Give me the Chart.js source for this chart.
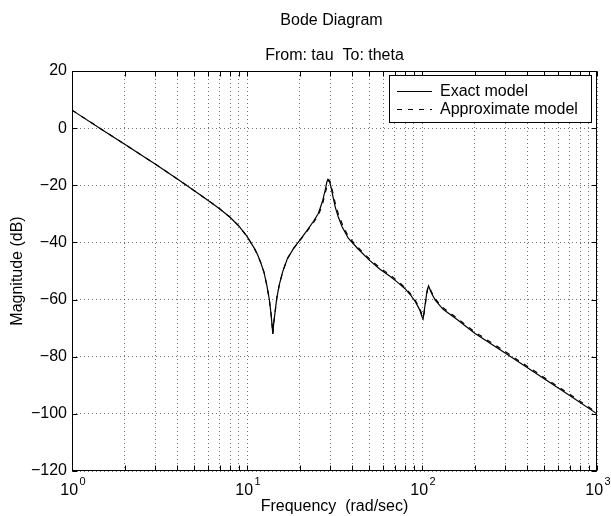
<!DOCTYPE html>
<html>
<head>
<meta charset="utf-8">
<script src="https://cdn.jsdelivr.net/npm/chart.js@4.4.1/dist/chart.umd.min.js"></script>
<style>
html,body{margin:0;padding:0;background:#fff;}
#wrap{width:611px;height:516px;}
</style>
</head>
<body>
<div id="wrap"><canvas id="c" width="611" height="516"></canvas></div>
<script>
// ---- texts ----
const titleText = 'Bode Diagram';
const subtitleText = 'From: tau  To: theta';
const xAxisTitle = 'Frequency  (rad/sec)';
const yAxisTitle = 'Magnitude (dB)';
const seriesNames = ['Exact model', 'Approximate model'];

// ---- ticks ----
const xMajorTicks = [1, 10, 100, 1000];
const xTickBase = ['10', '10', '10', '10'];
const xTickExp = ['0', '1', '2', '3'];
const xGridTicks = [1, 2, 3, 4, 5, 6, 7, 8, 9,
                    10, 20, 30, 40, 50, 60, 70, 80, 90,
                    100, 200, 300, 400, 500, 600, 700, 800, 900, 1000];
const yTicks = [20, 0, -20, -40, -60, -80, -100, -120];

// ---- data ----
const exactFreq = [1, 1.5, 2, 3, 4, 5, 6, 7, 8, 9,
  10, 11, 11.5, 12, 12.5, 13, 13.4, 13.7, 13.9, 14.05,
  14.2, 14.45, 14.8, 15.3, 16, 17, 18.5, 20, 22, 24,
  25.6, 27, 28, 28.6, 29, 29.5, 30.2, 31, 32, 33.2,
  35, 38, 43, 50, 57.5, 65, 72, 80, 86, 92,
  97, 100, 101.5, 104, 107, 109, 113, 119, 132, 158,
  200, 300, 470, 730, 1000];
const exactMag = [6.3, -0.7, -5.6, -12.6, -17.8, -21.9, -25.3, -28.3, -31.2, -34.3,
  -37.9, -42.0, -44.3, -47.2, -50.4, -55.2, -59.8, -64.6, -68.8, -72.0,
  -68.5, -64.6, -59.5, -54.8, -50.2, -45.7, -42.0, -39.3, -35.9, -32.6,
  -29.8, -25.6, -21.6, -18.8, -17.9, -18.3, -20.6, -24.0, -27.8, -31.0,
  -34.6, -38.6, -42.2, -46.2, -49.4, -51.7, -53.8, -56.2, -58.4, -60.9,
  -63.6, -66.0, -66.8, -62.0, -56.8, -55.2, -57.6, -60.2, -63.4, -66.9,
  -71.8, -78.8, -86.7, -94.4, -100.0];

const approxFreq = [1, 1.5, 2, 3, 4, 5, 6, 7, 8, 9,
  10, 11, 11.5, 12, 12.5, 13, 13.4, 13.7, 13.9, 14.05,
  14.2, 14.45, 14.8, 15.3, 16, 17, 18.5, 20, 22, 24,
  25.6, 27, 28, 28.8, 29.3, 29.8, 30.5, 31.3, 32.3, 33.5,
  35.5, 38, 43, 50, 57.5, 65, 72, 80, 86, 92,
  97, 100.5, 102, 104.5, 107.5, 109.5, 113.5, 119, 132, 158,
  200, 300, 470, 730, 1000];
const approxMag = [6.3, -0.7, -5.6, -12.6, -17.8, -21.9, -25.3, -28.3, -31.2, -34.3,
  -37.9, -42.0, -44.3, -47.2, -50.4, -55.2, -59.8, -64.6, -68.8, -72.0,
  -68.5, -64.6, -59.5, -54.8, -50.2, -45.7, -42.0, -39.4, -36.1, -33.0,
  -30.4, -26.6, -22.8, -19.6, -18.2, -18.6, -20.9, -24.0, -27.6, -30.6,
  -34.5, -38.0, -41.7, -45.7, -48.9, -51.2, -53.3, -55.8, -58.0, -60.5,
  -63.1, -65.6, -66.2, -61.6, -56.6, -55.3, -57.4, -59.8, -62.9, -66.4,
  -71.3, -78.3, -86.2, -93.9, -99.6];

// ---- styling ----
const FONT = '"Liberation Sans", Arial, Helvetica, sans-serif';
const GRID = 'rgba(0,0,0,0.55)';
Chart.defaults.font.family = FONT;
Chart.defaults.font.size = 16;
Chart.defaults.color = '#000';

const toXY = (xs, ys) => xs.map((x, i) => ({x: x, y: ys[i]}));

const decor = {
  id: 'matlabDecor',
  beforeDraw(chart) {
    const c = chart.ctx;
    c.save();
    c.fillStyle = '#fff';
    c.fillRect(0, 0, chart.width, chart.height);
    c.restore();
  },
  afterDraw(chart) {
    const ctx = chart.ctx, a = chart.chartArea;
    const xs = chart.scales.x, ys = chart.scales.y;
    ctx.save();
    ctx.setLineDash([]);
    ctx.strokeStyle = '#000';
    ctx.lineWidth = 1;
    const L = Math.round(a.left) + 0.5, R = Math.round(a.right) - 0.5;
    const T = Math.round(a.top) + 0.5, B = Math.round(a.bottom) - 0.5;
    ctx.strokeRect(L, T, R - L, B - T);
    // inward ticks
    ctx.beginPath();
    xs.ticks.forEach(t => {
      const px = Math.round(xs.getPixelForValue(t.value)) + 0.5;
      ctx.moveTo(px, B); ctx.lineTo(px, B - 5);
      ctx.moveTo(px, T); ctx.lineTo(px, T + 5);
    });
    ys.ticks.forEach(t => {
      const py = Math.round(ys.getPixelForValue(t.value)) + 0.5;
      ctx.moveTo(L, py); ctx.lineTo(L + 5, py);
      ctx.moveTo(R, py); ctx.lineTo(R - 5, py);
    });
    ctx.stroke();

    // x tick labels with superscript exponents
    ctx.fillStyle = '#000';
    ctx.textBaseline = 'alphabetic';
    ctx.textAlign = 'left';
    xMajorTicks.forEach((v, i) => {
      const px = xs.getPixelForValue(v);
      ctx.font = '16px ' + FONT;
      const w1 = ctx.measureText(xTickBase[i]).width;
      ctx.font = '11px ' + FONT;
      const w2 = ctx.measureText(xTickExp[i]).width;
      const x0 = px - (w1 + 1.5 + w2) / 2 + 1;
      ctx.font = '16px ' + FONT;
      ctx.fillText(xTickBase[i], x0, a.bottom + 24);
      ctx.font = '11px ' + FONT;
      ctx.fillText(xTickExp[i], x0 + w1 + 1.5, a.bottom + 14);
    });

    // titles
    const cx = (a.left + a.right) / 2;
    ctx.textAlign = 'center';
    ctx.font = '16px ' + FONT;
    ctx.fillText(titleText, cx - 3, 25);
    ctx.fillText(subtitleText, cx, 60);

    // legend
    const lx = 389, ly = 75, lw = 202, lh = 47;
    ctx.fillStyle = '#fff';
    ctx.fillRect(lx, ly, lw, lh);
    ctx.strokeStyle = '#000';
    ctx.lineWidth = 1;
    ctx.strokeRect(lx + 0.5, ly + 0.5, lw, lh);
    const rows = [ly + 16, ly + 34];
    chart.data.datasets.forEach((ds, i) => {
      ctx.beginPath();
      ctx.strokeStyle = ds.borderColor;
      ctx.lineWidth = ds.borderWidth;
      ctx.setLineDash(ds.borderDash || []);
      ctx.moveTo(397, rows[i] + 0.5);
      ctx.lineTo(432, rows[i] + 0.5);
      ctx.stroke();
      ctx.setLineDash([]);
      ctx.fillStyle = '#000';
      ctx.textAlign = 'left';
      ctx.textBaseline = 'middle';
      ctx.font = '16px ' + FONT;
      ctx.fillText(ds.label, 440, rows[i] + 1);
    });
    ctx.restore();
  }
};

new Chart(document.getElementById('c'), {
  type: 'line',
  data: {
    datasets: [
      {label: seriesNames[0], data: toXY(exactFreq, exactMag), borderColor: '#000',
       borderWidth: 1.2, pointRadius: 0, fill: false, tension: 0},
      {label: seriesNames[1], data: toXY(approxFreq, approxMag), borderColor: '#000',
       borderWidth: 1.2, borderDash: [5, 6], pointRadius: 0, fill: false, tension: 0}
    ]
  },
  options: {
    responsive: false,
    animation: false,
    devicePixelRatio: 1,
    layout: {padding: {top: 71, right: 14, left: 0, bottom: 0}},
    plugins: {legend: {display: false}, title: {display: false}, tooltip: {enabled: false}},
    scales: {
      x: {
        type: 'logarithmic', position: 'bottom', min: 1, max: 1000,
        afterBuildTicks: s => { s.ticks = xGridTicks.map(v => ({value: v, major: xMajorTicks.includes(v)})); },
        afterFit: s => { s.height = 45; },
        ticks: {display: false, autoSkip: false},
        grid: {color: GRID, lineWidth: 1, drawTicks: false},
        border: {display: false, dash: [1, 3]},
        title: {display: true, text: xAxisTitle, color: '#000', font: {size: 16}, padding: {top: 0, bottom: 0}}
      },
      y: {
        type: 'linear', position: 'left', min: -120, max: 20,
        afterBuildTicks: s => { s.ticks = yTicks.map(v => ({value: v})); },
        afterFit: s => { s.width = 72; },
        ticks: {color: '#000', padding: 5, font: {size: 16},
                callback: v => (v < 0 ? '\u2212' + Math.abs(v) : String(v))},
        grid: {color: GRID, lineWidth: 1, drawTicks: false},
        border: {display: false, dash: [1, 3]},
        title: {display: true, text: yAxisTitle, color: '#000', font: {size: 16}, padding: {top: 8, bottom: 0}}
      }
    }
  },
  plugins: [decor]
});
</script>
</body>
</html>
